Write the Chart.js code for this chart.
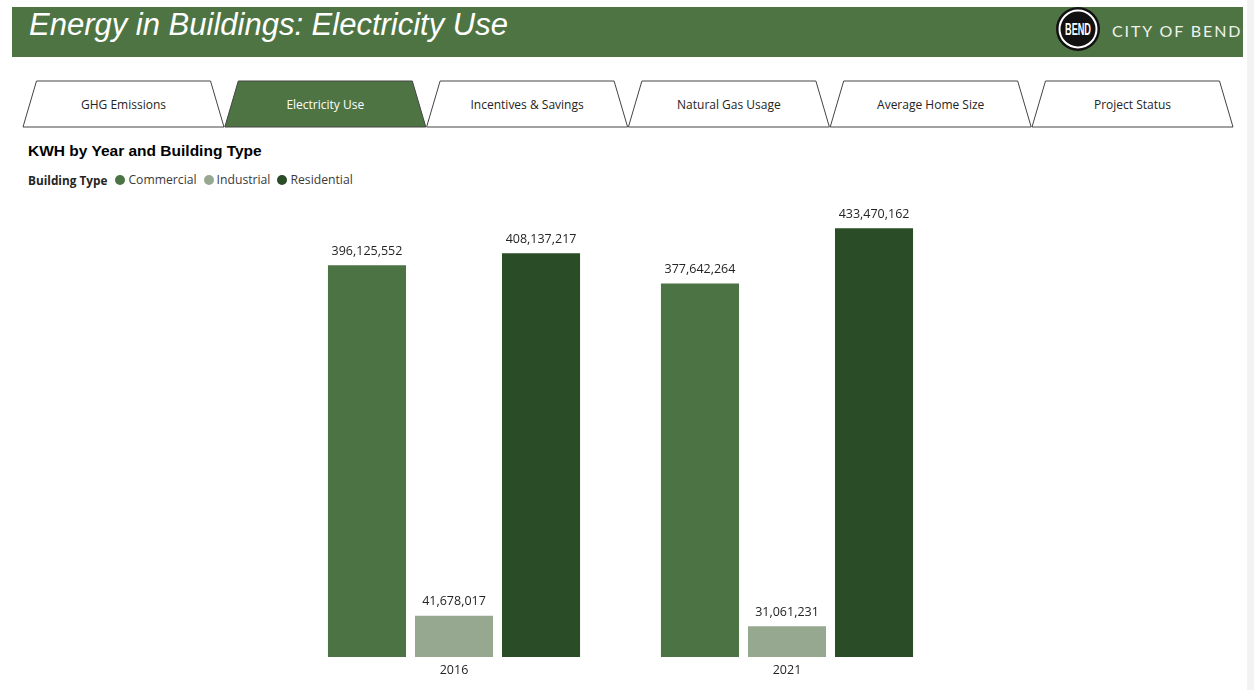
<!DOCTYPE html>
<html>
<head>
<meta charset="utf-8">
<script src="https://cdn.jsdelivr.net/npm/chart.js@4"></script>
<style>
  html, body { margin: 0; padding: 0; background: #fff; }
  body { width: 1254px; height: 690px; position: relative; overflow: hidden; font-family: 'Open Sans', sans-serif; color: #252423; }
  .header { position: absolute; left: 12px; top: 7px; width: 1231px; height: 50px; background: #4e7444; }
  .header h1 { position: absolute; left: 17px; top: 0; margin: 0; font: italic 31px 'Liberation Sans', Arial, sans-serif; line-height: 36px; color: #fff; font-weight: normal; }
  .brand { position: absolute; left: 1112px; top: 21px; font: 16px Lato, sans-serif; letter-spacing: 1.9px; color: #eef2ec; }
  .logo { position: absolute; left: 1054px; top: 6px; }
  .scroll { position: absolute; right: 0; top: 0; width: 7px; height: 690px; background: #f3f3f3; }
  .tabs { position: absolute; left: 0; top: 0; }
  .title { position: absolute; left: 28px; top: 142px; font: bold 15.5px 'Liberation Sans', Arial, sans-serif; color: #000; }
  .legend { position: absolute; left: 28px; top: 171px; font-size: 12.2px; display: flex; align-items: center; white-space: nowrap; }
  .legend b { margin-right: 8px; color: #252423; font-size: 11.8px; }
  .legend .item { display: flex; align-items: center; margin-right: 7px; color: #3b3a39; }
  .legend .dot { width: 10px; height: 10px; border-radius: 50%; margin-right: 3px; }
  .chart-box { position: absolute; left: 0; top: 195px; width: 1254px; height: 495px; }
</style>
</head>
<body>
<div class="header">
  <h1>Energy in Buildings: Electricity Use</h1>
</div>
<svg class="logo" width="48" height="46" viewBox="0 0 48 46">
  <circle cx="24" cy="23" r="22" fill="#111"/>
  <circle cx="24" cy="23" r="18.5" fill="none" stroke="#fff" stroke-width="2"/>
  <text x="24" y="29" text-anchor="middle" fill="#fff" font-family="Liberation Sans, Arial" font-weight="bold" font-size="17" textLength="26" lengthAdjust="spacingAndGlyphs">BEND</text>
</svg>
<div class="brand">CITY OF BEND</div>
<div class="scroll"></div>
<svg class="tabs" id="tabs" width="1254" height="140"></svg>
<div class="title">KWH by Year and Building Type</div>
<div class="legend" id="legend"><b>Building Type</b></div>
<div class="chart-box"><canvas id="kwh-chart"></canvas></div>

<script>
// Data
const years = ['2016', '2021']
const commercial  = [396125552, 377642264]
const industrial  = [41678017, 31061231]
const residential = [408137217, 433470162]

const seriesNames = ['Commercial', 'Industrial', 'Residential']
const seriesColors = ['#4b7344', '#97a890', '#2a4c27']

const tabLabels = ['GHG Emissions', 'Electricity Use', 'Incentives & Savings', 'Natural Gas Usage', 'Average Home Size', 'Project Status']
const activeTab = 1

const TEXT_COLOR = '#252423'
const FONT = { family: 'Open Sans', size: 12.5 }

// Tabs (trapezoids)
const svg = document.getElementById('tabs')
const NS = 'http://www.w3.org/2000/svg'
tabLabels.forEach((label, i) => {
  const x0 = 23 + i * 201.8
  const x1 = x0 + 201
  const poly = document.createElementNS(NS, 'polygon')
  poly.setAttribute('points', `${x0},127 ${x0 + 13.5},81 ${x1 - 13.5},81 ${x1},127`)
  poly.setAttribute('fill', i === activeTab ? '#4e7444' : '#fff')
  poly.setAttribute('stroke', '#444')
  poly.setAttribute('stroke-width', '1')
  svg.appendChild(poly)
  const t = document.createElementNS(NS, 'text')
  t.setAttribute('x', (x0 + x1) / 2)
  t.setAttribute('y', 108.5)
  t.setAttribute('text-anchor', 'middle')
  t.setAttribute('font-family', 'Open Sans')
  t.setAttribute('font-size', '12')
  t.setAttribute('fill', i === activeTab ? '#fff' : TEXT_COLOR)
  t.textContent = label
  svg.appendChild(t)
})

// Legend
const legend = document.getElementById('legend')
seriesNames.forEach((name, i) => {
  const item = document.createElement('span')
  item.className = 'item'
  item.innerHTML = `<span class="dot" style="background:${seriesColors[i]}"></span>${name}`
  legend.appendChild(item)
})

// Value labels above bars
const valueLabels = {
  id: 'valueLabels',
  afterDatasetsDraw(chart) {
    const ctx = chart.ctx
    ctx.save()
    ctx.font = `${FONT.size}px ${FONT.family}`
    ctx.fillStyle = TEXT_COLOR
    ctx.textAlign = 'center'
    ctx.textBaseline = 'middle'
    chart.data.datasets.forEach((ds, di) => {
      chart.getDatasetMeta(di).data.forEach((bar, i) => {
        ctx.fillText(ds.data[i].toLocaleString('en-US'), bar.x, bar.y - 14)
      })
    })
    ctx.restore()
  },
}

const seriesData = [commercial, industrial, residential]

new Chart(document.getElementById('kwh-chart').getContext('2d'), {
  type: 'bar',
  data: {
    labels: years,
    datasets: seriesNames.map((name, i) => ({
      label: name,
      data: seriesData[i],
      backgroundColor: seriesColors[i],
      borderWidth: 0,
      barPercentage: 0.897,
      categoryPercentage: 0.784,
    })),
  },
  options: {
    responsive: true,
    maintainAspectRatio: false,
    animation: false,
    layout: { padding: { left: 287.5, right: 300.5, top: 7, bottom: 14 } },
    plugins: {
      legend: { display: false },
      tooltip: { enabled: false },
    },
    scales: {
      x: {
        grid: { display: false },
        border: { display: false },
        ticks: { color: TEXT_COLOR, font: FONT, padding: -2 },
      },
      y: {
        display: false,
        min: 0,
        max: 460000000,
      },
    },
  },
  plugins: [valueLabels],
})
</script>
</body>
</html>
